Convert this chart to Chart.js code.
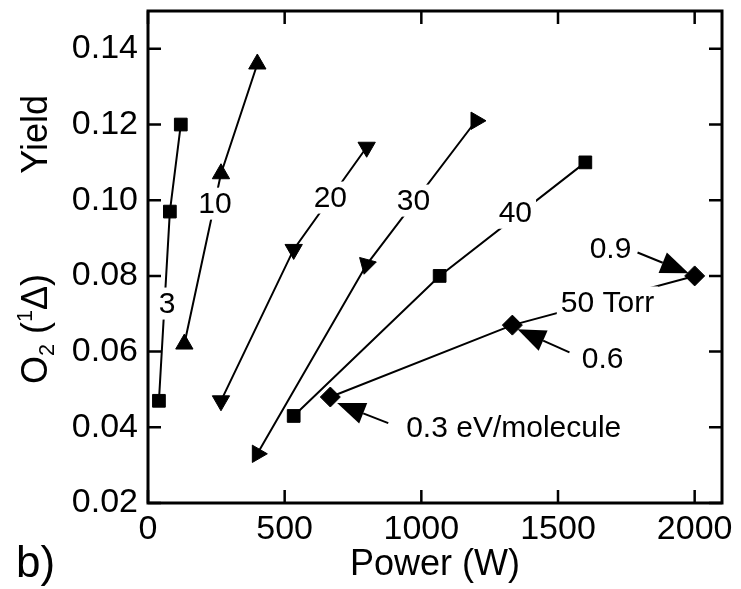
<!DOCTYPE html>
<html>
<head>
<meta charset="utf-8">
<script src="https://cdn.jsdelivr.net/npm/chart.js@4.4.1/dist/chart.umd.min.js"></script>
<style>
  html, body { margin: 0; padding: 0; background: #fff; }
</style>
</head>
<body>
<canvas id="chart" width="741" height="589"></canvas>
<script>
// tick values
const xTicks = [0, 500, 1000, 1500, 2000];
const yTicks = [0.02, 0.04, 0.06, 0.08, 0.10, 0.12, 0.14];

// one series per pressure, power (W) vs O2(1Δ) yield
const torr3Power = [40, 80, 120];
const torr3Yield = [0.047, 0.097, 0.120];
const torr10Power = [133, 267, 400];
const torr10Yield = [0.062, 0.107, 0.136];
const torr20Power = [267, 533, 800];
const torr20Yield = [0.047, 0.087, 0.114];
const torr30Power = [400, 800, 1200];
const torr30Yield = [0.033, 0.083, 0.121];
const torr40Power = [533, 1067, 1600];
const torr40Yield = [0.043, 0.080, 0.110];
const torr50Power = [667, 1333, 2000];
const torr50Yield = [0.048, 0.067, 0.080];

// text written on the plot (data coords)
const noteText = ["3", "10", "20", "30", "40", "50 Torr", "0.9", "0.6", "0.3 eV/molecule"];
const noteX = [70, 245, 667, 971, 1344, 1681, 1692, 1663, 1338];
const noteY = [0.0727, 0.0991, 0.1007, 0.0999, 0.0967, 0.0730, 0.0872, 0.0582, 0.0398];
const noteBox = [true, true, true, true, true, true, false, false, false];

// arrows pointing at the 50 Torr points
const arrowFromX = [1791, 1542, 879];
const arrowFromY = [0.0862, 0.0598, 0.0411];
const arrowToX = [1978, 1352, 692];
const arrowToY = [0.0807, 0.0659, 0.0464];

const FONT = "'Liberation Sans', Arial, sans-serif";

function pts(xs, ys) {
  return xs.map((x, i) => ({ x: x, y: ys[i] }));
}

function series(label, xs, ys, style, radius, rotation) {
  return {
    label: label,
    data: pts(xs, ys),
    borderColor: "#000",
    backgroundColor: "#000",
    borderWidth: 2,
    pointStyle: style,
    pointRadius: radius,
    pointRotation: rotation || 0,
    pointBorderWidth: 1,
    showLine: true,
    tension: 0
  };
}

const plotExtras = {
  id: "plotExtras",
  afterDatasetsDraw(chart) {
    const ctx = chart.ctx;
    const xs = chart.scales.x, ys = chart.scales.y;
    ctx.save();
    ctx.font = "30px " + FONT;
    ctx.textAlign = "center";
    ctx.textBaseline = "middle";
    noteText.forEach((t, i) => {
      const px = xs.getPixelForValue(noteX[i]);
      const py = ys.getPixelForValue(noteY[i]);
      if (noteBox[i]) {
        const w = ctx.measureText(t).width + 8;
        ctx.fillStyle = "#fff";
        ctx.fillRect(px - w / 2, py - 16, w, 32);
      }
      ctx.fillStyle = "#000";
      ctx.fillText(t, px, py + 1);
    });

    // arrows
    ctx.strokeStyle = "#000";
    ctx.fillStyle = "#000";
    ctx.lineWidth = 2;
    arrowFromX.forEach((_, i) => {
      const x0 = xs.getPixelForValue(arrowFromX[i]);
      const y0 = ys.getPixelForValue(arrowFromY[i]);
      const x1 = xs.getPixelForValue(arrowToX[i]);
      const y1 = ys.getPixelForValue(arrowToY[i]);
      const a = Math.atan2(y1 - y0, x1 - x0);
      const len = 28, half = 11;
      const bx = x1 - Math.cos(a) * len, by = y1 - Math.sin(a) * len;
      ctx.beginPath();
      ctx.moveTo(x0, y0);
      ctx.lineTo(bx, by);
      ctx.stroke();
      ctx.beginPath();
      ctx.moveTo(x1, y1);
      ctx.lineTo(bx - Math.sin(a) * half, by + Math.cos(a) * half);
      ctx.lineTo(bx + Math.sin(a) * half, by - Math.cos(a) * half);
      ctx.closePath();
      ctx.fill();
    });
    ctx.restore();
  },
  afterDraw(chart) {
    const ctx = chart.ctx;
    const a = chart.chartArea;
    const xs = chart.scales.x, ys = chart.scales.y;
    ctx.save();
    // frame
    ctx.strokeStyle = "#000";
    ctx.lineWidth = 3;
    ctx.strokeRect(a.left, a.top, a.right - a.left, a.bottom - a.top);
    // inward ticks on all sides
    const tl = 13;
    ctx.lineWidth = 2.5;
    ctx.beginPath();
    xTicks.forEach(v => {
      const px = xs.getPixelForValue(v);
      ctx.moveTo(px, a.bottom); ctx.lineTo(px, a.bottom - tl);
      ctx.moveTo(px, a.top); ctx.lineTo(px, a.top + tl);
    });
    yTicks.forEach(v => {
      const py = ys.getPixelForValue(v);
      ctx.moveTo(a.left, py); ctx.lineTo(a.left + tl, py);
      ctx.moveTo(a.right, py); ctx.lineTo(a.right - tl, py);
    });
    ctx.stroke();

    // x title
    ctx.fillStyle = "#000";
    ctx.font = "36px " + FONT;
    ctx.textAlign = "center";
    ctx.textBaseline = "middle";
    ctx.fillText("Power (W)", (a.left + a.right) / 2, 565);

    // panel tag
    ctx.textAlign = "left";
    ctx.textBaseline = "alphabetic";
    ctx.font = "44px " + FONT;
    ctx.fillText("b)", 16, 577);

    // y title with sub/superscripts, "Yield" set apart
    const f = 36;
    const parts = [
      { t: "O", s: f, dy: 0 },
      { t: "2", s: f * 0.6, dy: f * 0.2 },
      { t: " (", s: f, dy: 0 },
      { t: "1", s: f * 0.6, dy: -f * 0.42 },
      { t: "\u0394", s: f, dy: 0 },
      { t: ")", s: f, dy: 0 }
    ];
    ctx.translate(34, 0);
    ctx.rotate(-Math.PI / 2);
    const base = f * 0.36;
    let cx = -384;
    parts.forEach(p => {
      ctx.font = p.s + "px " + FONT;
      ctx.fillText(p.t, cx, base + p.dy);
      cx += ctx.measureText(p.t).width;
    });
    ctx.font = f + "px " + FONT;
    ctx.textAlign = "right";
    ctx.fillText("Yield", -95, base);
    ctx.restore();
  }
};

const tickFont = { family: FONT, size: 34 };

new Chart(document.getElementById("chart"), {
  type: "scatter",
  data: {
    datasets: [
      series("3 Torr", torr3Power, torr3Yield, "rect", 9),
      series("10 Torr", torr10Power, torr10Yield, "triangle", 10),
      series("20 Torr", torr20Power, torr20Yield, "triangle", 10, 180),
      series("30 Torr", torr30Power, torr30Yield, "triangle", 10, [210, 195, 90]),
      series("40 Torr", torr40Power, torr40Yield, "rect", 9),
      series("50 Torr", torr50Power, torr50Yield, "rectRot", 10)
    ]
  },
  options: {
    responsive: false,
    animation: false,
    devicePixelRatio: 1,
    layout: { padding: { top: 10, right: 19, left: 0, bottom: 0 } },
    plugins: { legend: { display: false }, tooltip: { enabled: false } },
    scales: {
      x: {
        type: "linear",
        min: 0,
        max: 2100,
        afterBuildTicks: s => { s.ticks = xTicks.map(v => ({ value: v })); },
        afterFit: s => { s.height = 86; s.paddingLeft = 0; s.paddingRight = 0; },
        grid: { display: false, drawTicks: false },
        border: { display: false },
        ticks: { font: tickFont, color: "#000", padding: 6, maxRotation: 0, autoSkip: false, callback: v => String(v) }
      },
      y: {
        min: 0.02,
        max: 0.15,
        afterBuildTicks: s => { s.ticks = yTicks.map(v => ({ value: v })); },
        afterFit: s => { s.width = 148; s.paddingTop = 0; s.paddingBottom = 0; },
        grid: { display: false, drawTicks: false },
        border: { display: false },
        ticks: { font: tickFont, color: "#000", padding: 10, autoSkip: false, callback: v => v.toFixed(2) }
      }
    }
  },
  plugins: [plotExtras]
});
</script>
</body>
</html>
